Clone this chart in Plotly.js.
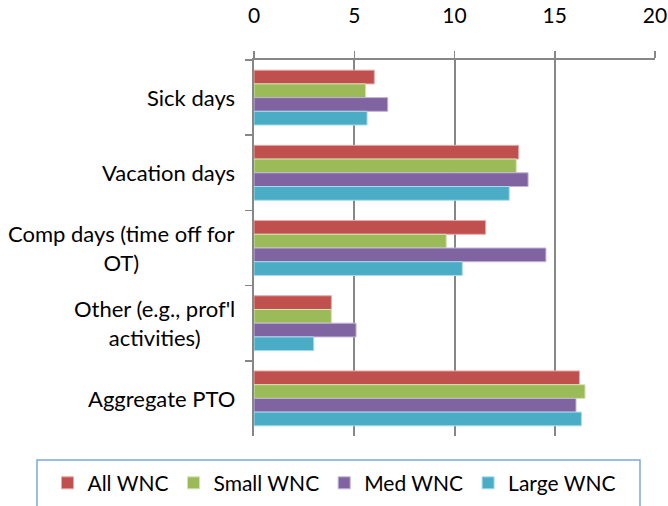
<!DOCTYPE html>
<html>
<head>
<meta charset="utf-8">
<script src="https://cdn.plot.ly/plotly-3.0.1.min.js"></script>
<style>html,body{margin:0;padding:0;background:#fff;}#chart{width:668px;height:506px;}</style>
</head>
<body>
<div id="chart"></div>
<script>
const categories = ["Sick days", "Vacation days", "Comp days (time off for OT)", "Other (e.g., prof'l activities)", "Aggregate PTO"];
const categoryLabels = ["Sick days", "Vacation days", "Comp days (time off for<br>OT)", "Other (e.g., prof'l<br>activities)", "Aggregate PTO"];
const seriesNames = ["All WNC", "Small WNC", "Med WNC", "Large WNC"];
const allWNC   = [6.0, 13.2, 11.55, 3.86, 16.23];
const smallWNC = [5.57, 13.08, 9.59, 3.86, 16.51];
const medWNC   = [6.67, 13.67, 14.56, 5.09, 16.06];
const largeWNC = [5.64, 12.73, 10.39, 2.98, 16.33];
const seriesValues = [allWNC, smallWNC, medWNC, largeWNC];
const colors = ["#C0504D", "#9BBB59", "#8064A2", "#4BACC6"];
const edgeColors = ["#E6A9A7", "#D3E4B5", "#C2B4D6", "#A9DCEA"];

const FONT = "Lato, 'Open Sans', sans-serif";
const FS = 21;

const traces = seriesNames.map((name, i) => ({
  type: "bar",
  orientation: "h",
  name: name,
  y: categories,
  x: seriesValues[i],
  marker: {color: colors[i], line: {color: edgeColors[i], width: 1}},
  hoverinfo: "x+name"
}));

const annotations = categories.map((c, i) => ({
  xref: "paper", yref: "y", x: -0.042, y: c,
  xanchor: "right", yanchor: "middle", align: "center",
  text: categoryLabels[i], showarrow: false,
  font: {family: FONT, size: 22, color: "#000"}
}));

const layout = {
  width: 668, height: 506,
  margin: {l: 254, r: 13, t: 60, b: 70, autoexpand: false},
  paper_bgcolor: "#fff", plot_bgcolor: "#fff",
  barmode: "group", bargap: 0.27, bargroupgap: 0,
  font: {family: FONT, size: FS, color: "#000"},
  xaxis: {
    side: "top", range: [0, 20], dtick: 5, tick0: 0,
    showgrid: true, gridcolor: "#878787", gridwidth: 2,
    showline: true, linecolor: "#878787", linewidth: 2,
    ticks: "outside", ticklen: 7, tickwidth: 1.5, tickcolor: "#878787",
    ticklabelstandoff: 20,
    zeroline: false, fixedrange: true, automargin: false,
    tickfont: {family: FONT, size: FS, color: "#000"}
  },
  yaxis: {
    type: "category", autorange: "reversed",
    showticklabels: false, showgrid: false, zeroline: false,
    showline: true, linecolor: "#878787", linewidth: 2,
    ticks: "outside", ticklen: 7, tickwidth: 1.5, tickcolor: "#878787",
    tickson: "boundaries", fixedrange: true, automargin: false
  },
  showlegend: true,
  legend: {
    orientation: "h", x: -0.515, xanchor: "left", y: -0.071, yanchor: "top",
    bgcolor: "rgba(0,0,0,0)", borderwidth: 0,
    font: {family: FONT, size: FS, color: "#000"},
    traceorder: "normal"
  },
  shapes: [{
    type: "rect", xref: "paper", yref: "paper",
    x0: (37 - 254) / 401, x1: (640 - 254) / 401,
    y0: (436 - 460) / 376, y1: (436 - 530) / 376,
    line: {color: "#7EA6D8", width: 1.5}, fillcolor: "rgba(0,0,0,0)", layer: "below"
  }],
  annotations: annotations
};

Plotly.newPlot("chart", traces, layout, {displayModeBar: false, staticPlot: true});
</script>
</body>
</html>
